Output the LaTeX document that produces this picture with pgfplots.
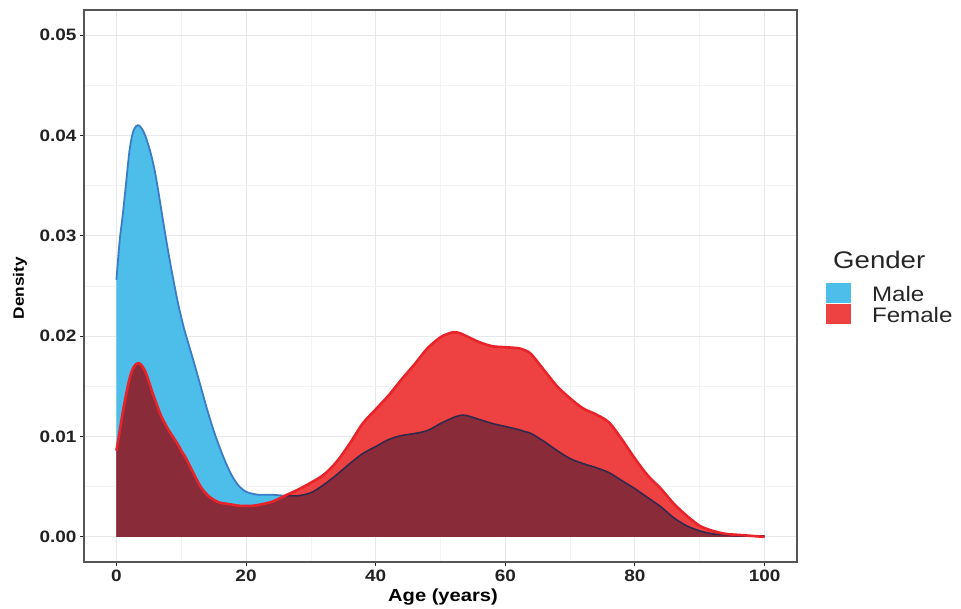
\documentclass[border=0pt]{standalone}
\usepackage{pgfplots}
\pgfplotsset{compat=1.18}
\usepackage{pgfplotstable}
\usepackage{fontspec}
\setmainfont{Liberation Sans}[FakeStretch=1.15]
\definecolor{mfill}{HTML}{4DBEEA}
\definecolor{mline}{HTML}{3A7DC6}
\definecolor{ffill}{HTML}{EE4242}
\definecolor{fline}{HTML}{E8242A}
\definecolor{ofill}{HTML}{8A2B3A}
\definecolor{oline}{HTML}{30294C}
\definecolor{gmaj}{HTML}{E6E8EC}
\definecolor{gmin}{HTML}{F2F3F5}
\definecolor{frame}{HTML}{555555}
\definecolor{tickc}{HTML}{222222}
\pgfplotstableread{
x m f o
0 .0256 .0086 .0086
0.5 .0295 .0105 .0105
1 .0322 .0125 .0125
1.5 .0353 .0142 .0142
2 .0384 .0157 .0157
2.5 .0402 .0167 .0167
3 .0409 .0172 .0172
3.5 .0410 .0173 .0173
4 .0406 .0170 .0170
4.5 .0399 .0164 .0164
5 .0389 .0155 .0155
5.5 .0377 .0145 .0145
6 .0362 .0136 .0136
6.5 .0343 .0127 .0127
7 .0323 .0119 .0119
7.5 .0303 .0113 .0113
8 .0284 .0107 .0107
8.5 .0266 .0102 .0102
9 .0249 .0097 .0097
9.5 .0233 .0092 .0092
10 .0219 .0086 .0086
10.5 .0206 .0081 .0081
11 .0195 .0075 .0075
12 .0173 .0062 .0062
13 .0150 .0050 .0050
14 .0127 .0042 .0042
15 .0106 .0037 .0037
16 .0088 .0034 .0034
17 .0072 .0033 .0033
18 .0059 .0032 .0032
19 .0050 .0031 .0031
20 .0045 .0031 .0031
21 .0043 .0031 .0031
22 .0042 .0032 .0032
24 .0042 .0035 .0035
26 .0041 .0041 .0041
28 .0041 .0047 .0041
30 .0044 .0054 .0044
32 .0052 .0062 .0052
34 .0062 .0075 .0062
36 .0073 .0093 .0073
38 .0083 .0113 .0083
40 .0090 .0127 .0090
42 .0097 .0141 .0097
44 .0101 .0157 .0101
46 .0103 .0172 .0103
48 .0106 .0188 .0106
50 .0113 .0199 .0113
51 .0116 .0202 .0116
52 .0119 .0204 .0119
53 .0121 .0203 .0121
54 .0121 .0200 .0121
56 .0117 .0194 .0117
58 .0113 .0190 .0113
60 .0110 .0189 .0110
62 .0107 .0188 .0107
63 .0105 .0186 .0105
64 .0103 .0182 .0103
66 .0095 .0166 .0095
68 .0086 .0150 .0086
70 .0078 .0138 .0078
72 .0073 .0128 .0073
74 .0069 .0122 .0069
76 .0064 .0114 .0064
78 .0056 .0097 .0056
80 .0048 .0078 .0048
82 .0039 .0061 .0039
84 .0030 .0048 .0030
86 .0019 .0033 .0019
88 .0011 .0021 .0011
90 .0006 .0011 .0006
92 .0003 .0006 .0003
94 .0002 .0003 .0002
96 .0001 .0002 .0001
98 .0001 .0001 .0001
100 .0001 .0000 .0000
}\dens
\begin{document}
\begin{tikzpicture}
\begin{axis}[
  scale only axis,
  width=713pt, height=552pt,
  xmin=-5, xmax=105, ymin=-0.0025, ymax=0.0525,
  clip=false,
  scaled y ticks=false, scaled x ticks=false,
  xtick={0,20,40,60,80,100},
  xticklabels={0,20,40,60,80,100},
  ytick={0,0.01,0.02,0.03,0.04,0.05},
  yticklabels={0.00,0.01,0.02,0.03,0.04,0.05},
  minor xtick={10,30,50,70,90},
  minor ytick={0.005,0.015,0.025,0.035,0.045},
  grid=both,
  major grid style={draw=gmaj, line width=1.0pt},
  minor grid style={draw=gmin, line width=0.7pt},
  minor tick length=0pt,
  major tick length=4pt,
  tick align=outside,
  xtick pos=bottom, ytick pos=left,
  major tick style={draw=tickc, line width=1pt},
  axis line style={draw=frame, line width=1.2pt},
  ticklabel style={font=\fontsize{16.5}{18}\selectfont\bfseries, text=tickc},
  xlabel={Age (years)},
  ylabel={Density},
  xlabel style={font=\fontsize{17.5}{20}\selectfont\bfseries, at={(axis description cs:0.5035,-0.0707)}, anchor=base},
  ylabel style={font=\fontsize{15}{18}\selectfont\bfseries, at={(axis description cs:-0.0898,0.496)}, anchor=center},
  legend style={at={(axis description cs:1.0407,0.5054)}, anchor=north west, draw=none, fill=none, inner sep=0pt, outer sep=0pt, row sep=0pt,
    font=\fontsize{21}{21}\selectfont, text=black!85,
    nodes={inner sep=0pt, text height=16pt, text depth=2pt}},
  legend cell align=left,
  legend image code/.code={\fill[#1] (0pt,-8.5pt) rectangle (25pt,11.5pt); \path (46pt,0pt);},
]
\addplot[fill=mfill, draw=none, smooth, forget plot] table[x=x,y=m]{\dens} \closedcycle;
\addplot[fill=ffill, draw=none, smooth, forget plot] table[x=x,y=f]{\dens} \closedcycle;
\addplot[fill=ofill, draw=none, smooth, forget plot] table[x=x,y=o]{\dens} \closedcycle;
\addplot[mline, line width=1.8pt, smooth, forget plot, restrict x to domain=0:26] table[x=x,y=m]{\dens};
\addplot[oline, line width=1.6pt, smooth, forget plot, restrict x to domain=26:100] table[x=x,y=m]{\dens};
\addplot[fline, line width=2.6pt, smooth, forget plot] table[x=x,y=f]{\dens};
\addlegendimage{fill=mfill, draw=none}
\addlegendentry{Male}
\addlegendimage{fill=ffill, draw=none}
\addlegendentry{Female}
\node[anchor=base west, inner sep=0pt, font=\fontsize{24}{26}\selectfont, text=black!85] at (axis description cs:1.0505,0.5326) {Gender};
\end{axis}
\path (current axis.south west) ++(-84pt,-43pt) rectangle ++(961pt,605pt);
\end{tikzpicture}
\end{document}
